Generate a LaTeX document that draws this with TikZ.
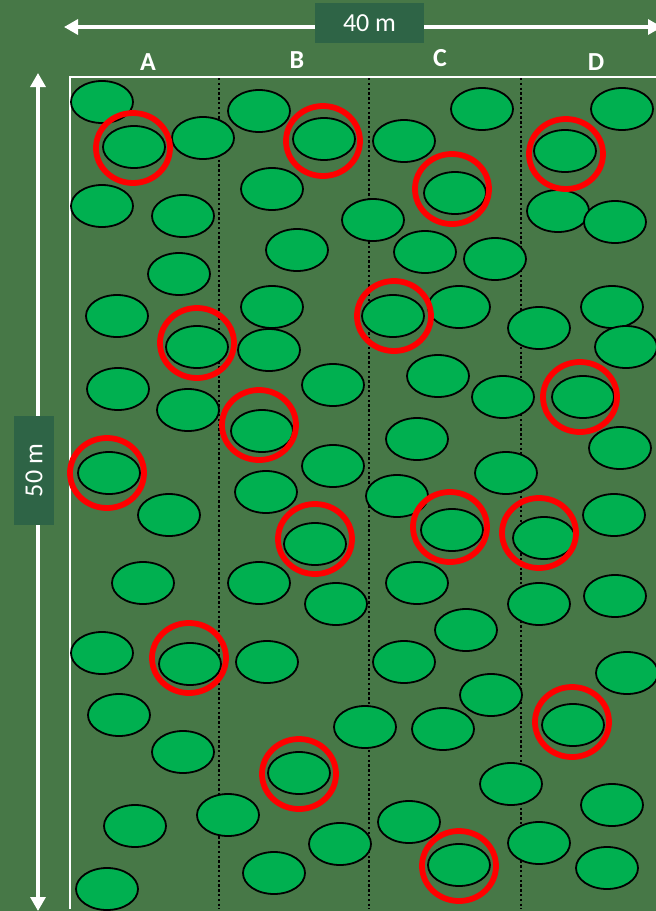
\documentclass[tikz,border=0pt]{standalone}
\usepackage{fontspec}
\setmainfont{Carlito}
\usetikzlibrary{arrows.meta}
\definecolor{fieldgreen}{RGB}{71,120,71}
\definecolor{boxgreen}{RGB}{46,100,70}
\definecolor{plantgreen}{RGB}{0,176,80}
\begin{document}
\begin{tikzpicture}[x=0.5pt,y=-0.5pt,
  plant/.style={draw=black,line width=0.9pt,fill=plantgreen},
  pick/.style={draw=red,line width=2.9pt},
  dimline/.style={draw=white,line width=1.6pt,arrows={Triangle[length=7pt,width=7.5pt]-Triangle[length=7pt,width=7.5pt]}},
  dimbox/.style={fill=boxgreen,text=white,font=\fontsize{13pt}{15pt}\selectfont,inner sep=0pt,minimum width=54.5pt,minimum height=20pt},
  colname/.style={text=white,font=\fontsize{13pt}{15pt}\selectfont\bfseries}]
\fill[fieldgreen] (0,0) rectangle (656,911);
\useasboundingbox (0,0) rectangle (656,911);
\coordinate (wl) at (64,27);
\coordinate (wr) at (662,27);
\coordinate (ht) at (38,73);
\coordinate (hb) at (38,911);
\draw[dimline] (wl) -- (wr);
\draw[dimline] (hb) -- (ht);
\node[dimbox] (width) at (369.5,23) {40 m};
\node[dimbox,rotate=90] (height) at (34,470.5) {50 m};
\node[colname] (colA) at (148,62) {A};
\node[colname] (colB) at (297,60) {B};
\node[colname] (colC) at (440,58) {C};
\node[colname] (colD) at (596,62) {D};
\draw[white,line width=1pt] (70,909) -- (70,77) -- (660,77);
\foreach \x in {219,369,521}
  \draw[black,line width=1.2pt,dash pattern=on 1.2pt off 1.2pt] (\x,78) -- (\x,909);
\foreach \x/\y in {102/102,134/147,203/138,259/111,324/139,102/206,183/216,272/189,297/250,179/274,
  117/316,197/347,272/307,269/350,118/389,188/410,262/431,333/385,109/473,169/515,
  266/492,333/466,315/544,143/583,259/583,336/604,102/653,190/664,267/662,119/715,
  183/752,365/727,299/773,135/826,228/815,340/844,274/873,107/889,
  482/109,404/141,455/193,373/220,425/252,495/259,393/316,459/307,438/376,503/397,
  417/439,506/473,397/496,452/530,417/583,466/630,404/662,491/695,443/729,511/784,
  409/822,459/865,
  622/109,565/151,558/211,615/222,539/328,612/307,626/347,583/397,620/448,544/538,
  614/515,539/604,615/596,627/673,573/725,612/805,539/843,607/868}
  \draw[plant] (\x,\y) ellipse [x radius=31,y radius=21];
\foreach \x/\y in {133/148,197/343,107/473,189/658,323/141,259/425,315/539,299/774,
  452/189,394/316,450/527,459/866,566/154,580/397,539/533,572/722}
  \draw[pick] (\x,\y) ellipse [x radius=37,y radius=35];
\end{tikzpicture}
\end{document}
